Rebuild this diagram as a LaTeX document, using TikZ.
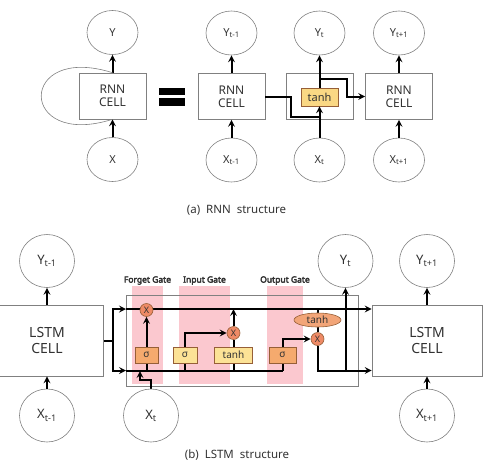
\documentclass[tikz,border=0pt]{standalone}
\usepackage{fontspec}
\setmainfont{Noto Sans}[AutoFakeBold=4]
\usetikzlibrary{shapes.geometric, arrows, positioning, backgrounds}
\pgfdeclarelayer{bandlayer}
\pgfsetlayers{bandlayer,background,main}
\definecolor{edgegray}{RGB}{128,128,128}
\definecolor{labelgray}{RGB}{50,50,50}
\definecolor{gatepink}{RGB}{251,200,207}
\definecolor{sigorange}{RGB}{245,170,110}
\definecolor{sigyellow}{RGB}{252,226,150}
\definecolor{multred}{RGB}{238,138,102}
\definecolor{tanhorange}{RGB}{242,165,120}
\definecolor{tanhyellow}{RGB}{250,216,132}
\definecolor{gatebrown}{RGB}{150,95,55}
\tikzstyle{cell} = [rectangle, draw=edgegray, line width=0.6pt, text=labelgray, align=center, inner sep=0pt]
\tikzstyle{rnncell} = [cell, minimum width=67pt, minimum height=46pt, font=\fontsize{12}{13}\selectfont]
\tikzstyle{lstmcell} = [cell, minimum height=71pt, font=\fontsize{14}{16}\selectfont]
\tikzstyle{io} = [ellipse, draw=edgegray, line width=0.6pt, text=labelgray, minimum width=51pt, minimum height=44pt, inner sep=0pt, font=\fontsize{11}{12}\selectfont]
\tikzstyle{iobig} = [io, minimum width=55pt, minimum height=53pt, font=\fontsize{13}{14}\selectfont]
\tikzstyle{gateband} = [rectangle, fill=gatepink, minimum height=98pt, inner sep=0pt]
\tikzstyle{gatelabel} = [font=\bfseries\fontsize{8.5}{9}\selectfont, text=labelgray, inner sep=1pt]
\tikzstyle{sigbox} = [rectangle, draw=gatebrown, fill=sigorange, line width=0.6pt, minimum width=23pt, minimum height=16pt, inner sep=0pt, text=labelgray, font=\fontsize{10}{11}\selectfont]
\tikzstyle{sigboxlight} = [sigbox, fill=sigyellow]
\tikzstyle{mult} = [circle, draw=gatebrown, fill=multred, line width=0.6pt, minimum size=13pt, inner sep=0pt, text=labelgray, font=\fontsize{9}{10}\selectfont]
\tikzstyle{caption} = [font=\fontsize{11.5}{13}\selectfont, text=labelgray, inner sep=1pt]
\tikzstyle{arrow} = [line width=2pt,->,>=stealth]
\tikzstyle{wire} = [line width=2pt]

\begin{document}
\begin{tikzpicture}[x=1pt, y=-1pt, node distance=63.5pt]
\useasboundingbox (0,0) rectangle (495,464);

\node (rnn) [rnncell] at (112.5,96) {RNN\\CELL};
\node (yr) [io, above of=rnn] {Y};
\node (xr) [io, below of=rnn] {X};
\fill (159,88) rectangle (185,95);
\fill (159,98) rectangle (185,106);
\node (rnnA) [rnncell] at (231.5,96.5) {RNN\\CELL};
\node (rnnB) [rnncell] at (319.5,96.5) {};
\node (rnnC) [rnncell] at (399,96.5) {RNN\\CELL};
\node (tanhB) [rectangle, draw=gatebrown, fill=tanhyellow, line width=0.6pt, minimum width=37pt, minimum height=18pt, inner sep=0pt, text=labelgray, font=\fontsize{11}{12}\selectfont] at (319.5,97) {tanh};
\node (yA) [io, above of=rnnA] {Y\textsubscript{t-1}};
\node (xA) [io, below of=rnnA] {X\textsubscript{t-1}};
\node (yB) [io, above of=rnnB] {Y\textsubscript{t}};
\node (xB) [io, below of=rnnB] {X\textsubscript{t}};
\node (yC) [io, above of=rnnC] {Y\textsubscript{t+1}};
\node (xC) [io, below of=rnnC] {X\textsubscript{t+1}};
\coordinate (jB) at (319.5,117);
\coordinate (kB) at (319.5,79);

\draw [arrow] (xr) -- (rnn);
\draw [arrow] (rnn) -- (yr);
\draw [edgegray, line width=0.6pt] (rnn.north) .. controls +(-95,-30) and +(-95,30) .. (rnn.south);
\draw [arrow] (xA) -- (rnnA);
\draw [arrow] (rnnA) -- (yA);
\draw [wire] (rnnA.east) -- ++(26,0) |- (jB);
\draw [arrow] (xB) -- (tanhB);
\draw [arrow] (tanhB) -- (yB);
\draw [arrow] (kB) -- ++(27,0) |- (rnnC);
\draw [arrow] (xC) -- (rnnC);
\draw [arrow] (rnnC) -- (yC);
\node (capA) [caption] at (236.5,210) {(a)\ \ RNN\ \ structure};

\node (lstmA) [lstmcell, minimum width=112pt] at (47,340.5) {LSTM\\CELL};
\node (lstmB) [lstmcell, minimum width=110pt] at (427,340.5) {LSTM\\CELL};
\node (yA2) [iobig, node distance=79.5pt, above of=lstmA] {Y\textsubscript{t-1}};
\node (xA2) [iobig, node distance=75pt, below of=lstmA] {X\textsubscript{t-1}};
\node (yC2) [iobig, node distance=79.5pt, above of=lstmB] {Y\textsubscript{t+1}};
\node (xC2) [iobig, node distance=75pt, below of=lstmB] {X\textsubscript{t+1}};
\node (yB2) [iobig] at (345.5,261) {Y\textsubscript{t}};
\node (xB2) [iobig] at (151,415.5) {X\textsubscript{t}};

\begin{pgfonlayer}{bandlayer}
\node (forget) [gateband, minimum width=31pt] at (147.5,335) {};
\node (input) [gateband, minimum width=51pt] at (204.5,335) {};
\node (output) [gateband, minimum width=36pt] at (285,335) {};
\end{pgfonlayer}
\node (forgetlbl) [gatelabel, above=0pt of forget] {Forget Gate};
\node (inputlbl) [gatelabel, above=0pt of input] {Input Gate};
\node (outputlbl) [gatelabel, above=0pt of output] {Output Gate};

\node (fmul) [mult] at (146.5,310) {X};
\node (fsig) [sigbox] at (146.5,355) {σ};
\node (isig) [sigboxlight, minimum width=24pt] at (185,355) {σ};
\node (imul) [mult] at (233.5,333) {X};
\node (itanh) [sigboxlight, minimum width=38pt] at (233.5,355) {tanh};
\node (osig) [sigbox, minimum width=27pt] at (282.5,355) {σ};
\node (otanh) [ellipse, draw=gatebrown, fill=tanhorange, line width=0.6pt, minimum width=47pt, minimum height=14pt, inner sep=0pt, text=labelgray, font=\fontsize{10}{11}\selectfont] at (317.5,320) {tanh};
\node (omul) [mult] at (317.5,339) {X};

\begin{scope}[on background layer]
\node (cellbody) [rectangle, draw=edgegray, line width=0.6pt, minimum width=232pt, minimum height=91pt, inner sep=0pt] at (242,340.5) {};
\coordinate (split) at (113,340.5);
\coordinate (ctop) at (126,309);
\coordinate (cbot) at (126,370.5);
\coordinate (xin) at (140,371);
\coordinate (ytap) at (345.5,370.5);
\draw [wire] (lstmA) -- (split);
\draw [arrow] (split) |- (ctop);
\draw [arrow] (split) |- (cbot);
\draw [arrow] (ctop) -- (ctop -| lstmB.west);
\draw [wire] (cbot) -- (cbot -| osig);
\draw [wire] (fsig) -- (fsig |- cbot);
\draw [arrow] (fsig) -- (fmul);
\draw [arrow] (xB2.north) -- ++(0,-9) -| (xin);
\draw [wire] (isig) -- (isig |- cbot);
\draw [arrow] (isig.north) |- (imul);
\draw [wire] (itanh) -- (itanh |- cbot);
\draw [wire] (itanh) -- (imul);
\draw [arrow] (imul) -- (imul |- ctop);
\draw [wire] (osig) -- (osig |- cbot);
\draw [arrow] (osig.north) |- (omul);
\draw [wire] (otanh |- ctop) -- (otanh);
\draw [wire] (otanh) -- (omul);
\draw [arrow] (omul) -- (omul |- cbot) -- (cbot -| lstmB.west);
\draw [arrow] (ytap) -- (yB2);
\end{scope}
\draw [arrow] (xA2) -- (lstmA);
\draw [arrow] (lstmA) -- (yA2);
\draw [arrow] (xC2) -- (lstmB);
\draw [arrow] (lstmB) -- (yC2);
\node (capB) [caption] at (237,455) {(b)\ \ LSTM\ \ structure};

\end{tikzpicture}
\end{document}
